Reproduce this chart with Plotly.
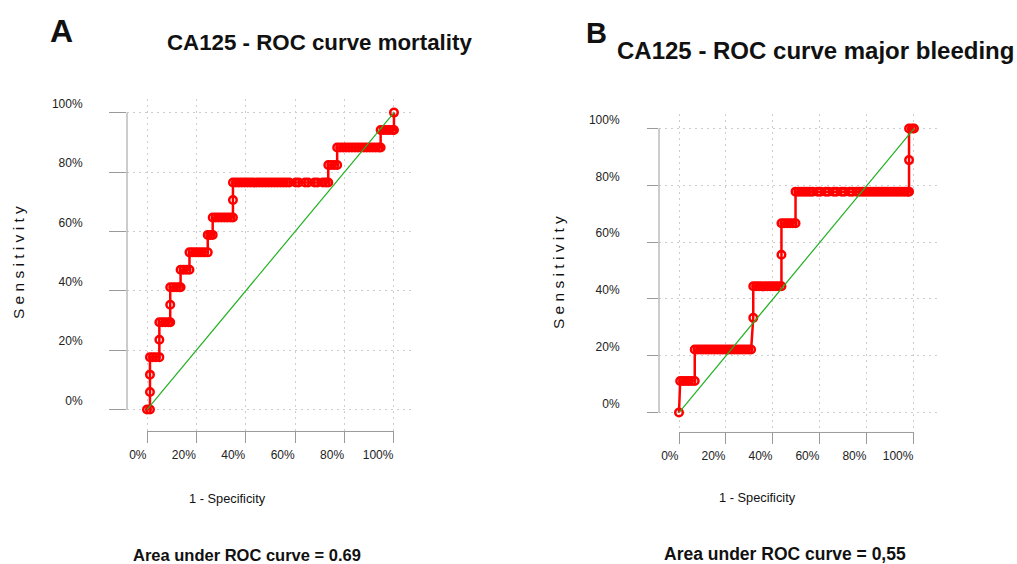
import plotly.graph_objects as go

# ROC points for CA125 predicting mortality (17 deaths)
mortality_fpr = [
    0.000, 0.012,
    0.012,
    0.012,
    0.012, 0.024, 0.036, 0.050,
    0.050,
    0.050, 0.062, 0.074, 0.086, 0.094,
    0.094,
    0.094, 0.106, 0.118, 0.130, 0.136,
    0.136, 0.148, 0.160, 0.172,
    0.172, 0.184, 0.196, 0.208, 0.220, 0.232, 0.246,
    0.246, 0.256, 0.266,
    0.266, 0.278, 0.290, 0.302, 0.314, 0.326, 0.338, 0.348,
    0.348,
    0.348, 0.360, 0.372, 0.384, 0.396, 0.408, 0.420, 0.432, 0.444, 0.456,
    0.468, 0.480, 0.492, 0.504, 0.516, 0.528, 0.540, 0.552, 0.564, 0.576,
    0.602, 0.614, 0.640, 0.652, 0.678, 0.690, 0.712, 0.724, 0.734,
    0.734, 0.746, 0.758, 0.770,
    0.770, 0.782, 0.794, 0.806, 0.818, 0.830, 0.842, 0.854, 0.866, 0.878,
    0.890, 0.902, 0.914, 0.926, 0.938, 0.946,
    0.946, 0.958, 0.970, 0.982, 0.994, 1.000,
    1.000,
]
mortality_tp = [
    0, 0,
    1,
    2,
    3, 3, 3, 3,
    4,
    5, 5, 5, 5, 5,
    6,
    7, 7, 7, 7, 7,
    8, 8, 8, 8,
    9, 9, 9, 9, 9, 9, 9,
    10, 10, 10,
    11, 11, 11, 11, 11, 11, 11, 11,
    12,
    13, 13, 13, 13, 13, 13, 13, 13, 13, 13,
    13, 13, 13, 13, 13, 13, 13, 13, 13, 13,
    13, 13, 13, 13, 13, 13, 13, 13, 13,
    14, 14, 14, 14,
    15, 15, 15, 15, 15, 15, 15, 15, 15, 15,
    15, 15, 15, 15, 15, 15,
    16, 16, 16, 16, 16, 16,
    17,
]
mortality_events = 17

# ROC points for CA125 predicting major bleeding (9 events)
bleeding_fpr = [
    0.000,
    0.005, 0.017, 0.029, 0.041, 0.053, 0.067,
    0.067, 0.079, 0.091, 0.103, 0.115, 0.127, 0.139, 0.151, 0.163, 0.175,
    0.187, 0.199, 0.211, 0.223, 0.235, 0.247, 0.259, 0.271, 0.283, 0.295, 0.307,
    0.316,
    0.316, 0.328, 0.340, 0.352, 0.364, 0.376, 0.388, 0.400, 0.412, 0.424, 0.436,
    0.436,
    0.436, 0.448, 0.460, 0.472, 0.484, 0.496,
    0.496, 0.508, 0.520, 0.532, 0.544, 0.556, 0.568, 0.590, 0.602, 0.624,
    0.636, 0.658, 0.670, 0.692, 0.704, 0.726, 0.738, 0.756, 0.768, 0.780,
    0.792, 0.804, 0.816, 0.828, 0.840, 0.852, 0.864, 0.876, 0.888, 0.900,
    0.912, 0.924, 0.936, 0.948, 0.960, 0.972, 0.979,
    0.979,
    0.979, 0.991, 1.000,
]
bleeding_tp = [
    0,
    1, 1, 1, 1, 1, 1,
    2, 2, 2, 2, 2, 2, 2, 2, 2, 2,
    2, 2, 2, 2, 2, 2, 2, 2, 2, 2, 2,
    3,
    4, 4, 4, 4, 4, 4, 4, 4, 4, 4, 4,
    5,
    6, 6, 6, 6, 6, 6,
    7, 7, 7, 7, 7, 7, 7, 7, 7, 7,
    7, 7, 7, 7, 7, 7, 7, 7, 7, 7,
    7, 7, 7, 7, 7, 7, 7, 7, 7, 7,
    7, 7, 7, 7, 7, 7, 7,
    8,
    9, 9, 9,
]
bleeding_events = 9

tick_vals = [0, 0.2, 0.4, 0.6, 0.8, 1.0]
tick_text = ["0%", "20%", "40%", "60%", "80%", "100%"]

panel_letters = ["A", "B"]
panel_titles = ["CA125 - ROC curve mortality", "CA125 - ROC curve major bleeding"]
auc_labels = ["Area under ROC curve = 0.69", "Area under ROC curve = 0,55"]

W, H = 1017, 564
FONT = "Liberation Sans, Arial, Helvetica, sans-serif"
RED = "#ff0000"
GREEN = "#22b022"
AXIS_GREY = "#9a9a9a"
GRID_GREY = "#cdcdcd"


def px(x):
    return x / W


def py(y):
    return 1 - y / H


fig = go.Figure()

panels = [
    ("x", "y", mortality_fpr, [t / mortality_events for t in mortality_tp]),
    ("x2", "y2", bleeding_fpr, [t / bleeding_events for t in bleeding_tp]),
]
for xa, ya, fpr, tpr in panels:
    fig.add_trace(go.Scatter(
        x=fpr, y=tpr, xaxis=xa, yaxis=ya, mode="lines+markers",
        line=dict(color=RED, width=2.5),
        marker=dict(symbol="circle-open", size=7.5, color=RED, line=dict(width=2.5)),
        showlegend=False, hoverinfo="skip",
    ))
    fig.add_trace(go.Scatter(
        x=[0, 1], y=[0, 1], xaxis=xa, yaxis=ya, mode="lines",
        line=dict(color=GREEN, width=1.2),
        showlegend=False, hoverinfo="skip",
    ))

tickfont = dict(family=FONT, size=12, color="#222222")
common_x = dict(
    tickvals=tick_vals, ticktext=tick_text, ticks="outside", ticklen=11,
    tickcolor=AXIS_GREY, tickwidth=1, showline=False, zeroline=False,
    showgrid=True, gridcolor=GRID_GREY, gridwidth=1, griddash="2px,4px",
    ticklabelposition="outside left", ticklabelstandoff=12,
    tickfont=tickfont, fixedrange=True,
)
common_y = dict(
    tickvals=tick_vals, ticktext=tick_text, ticks="outside",
    tickcolor=AXIS_GREY, tickwidth=1, showline=False, zeroline=False,
    showgrid=True, gridcolor=GRID_GREY, gridwidth=1, griddash="2px,4px",
    ticklabelposition="outside top", tickfont=tickfont, fixedrange=True,
)

fig.update_layout(
    width=W, height=H, autosize=False,
    margin=dict(l=0, r=0, t=0, b=0),
    paper_bgcolor="white", plot_bgcolor="white",
    xaxis=dict(common_x, domain=[px(127), px(412)], range=[-0.081, 1.073], anchor="y"),
    yaxis=dict(common_y, domain=[py(431), py(97)], range=[-0.0738, 1.047], anchor="x",
               ticklen=17, ticklabelstandoff=41),
    xaxis2=dict(common_x, domain=[px(659), px(937)], range=[-0.0851, 1.098], anchor="y2"),
    yaxis2=dict(common_y, domain=[py(432), py(112)], range=[-0.0702, 1.0526], anchor="x2",
                ticklen=11, ticklabelstandoff=36),
)

# R-style axis lines spanning only the 0-100% range
shapes = []
for xa, ya in [("x", "y"), ("x2", "y2")]:
    shapes.append(dict(type="line", xref=f"{xa} domain", yref=ya, x0=0, x1=0, y0=0, y1=1,
                       line=dict(color=AXIS_GREY, width=1)))
    shapes.append(dict(type="line", xref=xa, yref=f"{ya} domain", x0=0, x1=1, y0=0, y1=0,
                       line=dict(color=AXIS_GREY, width=1)))
fig.update_layout(shapes=shapes)

ann = []
# panel letters
ann.append(dict(text="<b>%s</b>" % panel_letters[0], x=px(61), y=py(29), font=dict(size=32)))
ann.append(dict(text="<b>%s</b>" % panel_letters[1], x=px(596), y=py(31), font=dict(size=29)))
# titles
ann.append(dict(text="<b>%s</b>" % panel_titles[0], x=px(319.5), y=py(41), font=dict(size=22.3)))
ann.append(dict(text="<b>%s</b>" % panel_titles[1], x=px(815.5), y=py(49), font=dict(size=24)))
# axis titles
ann.append(dict(text="1 - Specificity", x=px(227), y=py(498), font=dict(size=12.8)))
ann.append(dict(text="1 - Specificity", x=px(757), y=py(497), font=dict(size=12.8)))
ann.append(dict(text="S e n s i t i v i t y", x=px(18), y=py(262), textangle=-90,
                font=dict(size=15.5)))
ann.append(dict(text="S e n s i t i v i t y", x=px(558), y=py(272), textangle=-90,
                font=dict(size=15.5)))
# AUC captions
ann.append(dict(text="<b>%s</b>" % auc_labels[0], x=px(247), y=py(555), font=dict(size=16.5)))
ann.append(dict(text="<b>%s</b>" % auc_labels[1], x=px(785), y=py(554), font=dict(size=17.5)))

for a in ann:
    a.update(xref="paper", yref="paper", showarrow=False, xanchor="center", yanchor="middle")
    f = dict(family=FONT, color="#111111")
    f.update(a["font"])
    a["font"] = f
fig.update_layout(annotations=ann)

fig.write_html("out.html")
